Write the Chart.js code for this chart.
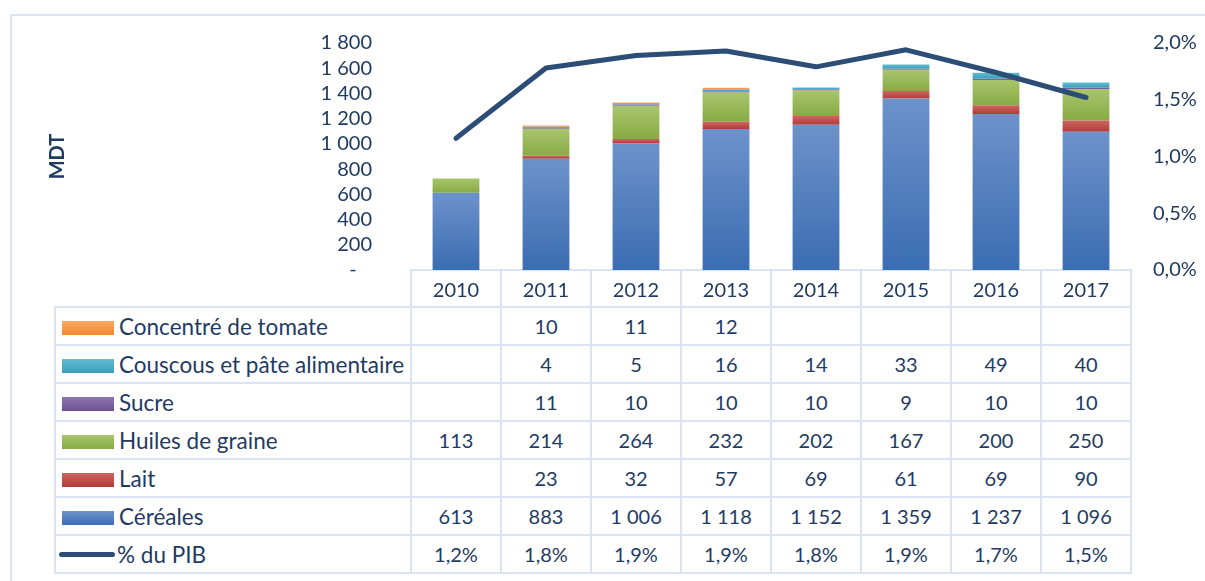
<!DOCTYPE html>
<html>
<head>
<meta charset="utf-8">
<script src="https://cdn.jsdelivr.net/npm/chart.js@4.4.1/dist/chart.umd.min.js"></script>
<style>
  body { margin: 0; background: #fff; font-family: Lato, sans-serif; }
  #wrap { position: relative; width: 1205px; height: 581px; overflow: hidden; }
  #frame { position: absolute; left: 10px; top: 14px; width: 1300px; height: 700px; border: 2px solid #DCE6F2; }
  #tbl { position: absolute; border-collapse: collapse; color: #1F3B63; font-size: 20px; table-layout: fixed; }
  #tbl td { border: 2px solid #DAE3F3; text-align: center; padding: 0; white-space: nowrap; }
  #tbl td.lbl { text-align: left; padding-left: 6px; font-size: 22.5px; }
  #tbl td.blank { border-top: none; border-left: none; }
  .key { display: inline-block; width: 52px; height: 14px; margin-right: 5px; vertical-align: 0px; }
  .lkey { display: inline-block; width: 56px; height: 5px; border-radius: 3px; background: #2C4D75; margin-left: -3px; margin-right: 2px; vertical-align: 6px; }
  #c { position: absolute; left: 0; top: 0; }
</style>
</head>
<body>
<div id="wrap">
  <div id="frame"></div>
  <table id="tbl"></table>
  <canvas id="c" width="1205" height="581"></canvas>
</div>
<script>
const years = ['2010', '2011', '2012', '2013', '2014', '2015', '2016', '2017'];

// MDT, stacked from bottom to top
const cereales   = [613, 883, 1006, 1118, 1152, 1359, 1237, 1096];
const lait       = [null, 23, 32, 57, 69, 61, 69, 90];
const huiles     = [113, 214, 264, 232, 202, 167, 200, 250];
const sucre      = [null, 11, 10, 10, 10, 9, 10, 10];
const couscous   = [null, 4, 5, 16, 14, 33, 49, 40];
const concentre  = [null, 10, 11, 12, null, null, null, null];

// % du PIB
const pib = [1.16, 1.78, 1.89, 1.93, 1.79, 1.94, 1.74, 1.52];

const leftTicks = [0, 200, 400, 600, 800, 1000, 1200, 1400, 1600, 1800];
const rightTicks = [0, 0.5, 1.0, 1.5, 2.0];

const txt = '#1F3B63';

const series = [
  { label: 'Céréales', data: cereales, light: '#6D92CA', dark: '#3A6DB2' },
  { label: 'Lait', data: lait, light: '#CD6663', dark: '#B23B38' },
  { label: 'Huiles de graine', data: huiles, light: '#A8C56E', dark: '#88AB44' },
  { label: 'Sucre', data: sucre, light: '#8D76B0', dark: '#6C5190' },
  { label: 'Couscous et pâte alimentaire', data: couscous, light: '#60BDD3', dark: '#3A9EB7' },
  { label: 'Concentré de tomate', data: concentre, light: '#FAA866', dark: '#F28830' }
];

function fmt(v) {
  return String(v).replace(/\B(?=(\d{3})+(?!\d))/g, ' ');
}
function pct(v) {
  return v.toFixed(1).replace('.', ',') + '%';
}

// vertical gradient per bar segment, light on top
function segFill(idx) {
  return function (ctx) {
    const s = series[idx];
    const y = ctx.chart.scales.y;
    if (!y || ctx.type !== 'data') return s.dark;
    const i = ctx.dataIndex;
    let base = 0;
    for (let k = 0; k < idx; k++) base += series[k].data[i] || 0;
    const top = base + (s.data[i] || 0);
    const y0 = y.getPixelForValue(top), y1 = y.getPixelForValue(base);
    if (!isFinite(y0) || !isFinite(y1) || y0 === y1) return s.dark;
    const g = ctx.chart.ctx.createLinearGradient(0, y0, 0, y1);
    g.addColorStop(0, s.light);
    g.addColorStop(1, s.dark);
    return g;
  };
}

const datasets = series.map((s, idx) => ({
  type: 'bar',
  label: s.label,
  data: s.data,
  backgroundColor: segFill(idx),
  borderWidth: 0,
  yAxisID: 'y',
  order: 1,
  barPercentage: 0.52,
  categoryPercentage: 1
}));
datasets.push({
  type: 'line',
  label: '% du PIB',
  data: pib,
  yAxisID: 'y1',
  borderColor: '#2C4D75',
  borderWidth: 5,
  borderCapStyle: 'round',
  borderJoinStyle: 'round',
  pointRadius: 0,
  tension: 0,
  order: 0
});

const font = { family: 'Lato', size: 20 };

const chart = new Chart(document.getElementById('c'), {
  data: { labels: years, datasets: datasets },
  options: {
    responsive: false,
    animation: false,
    layout: { padding: { top: 43, bottom: 271, left: 0, right: 0 } },
    plugins: { legend: { display: false }, tooltip: { enabled: false } },
    scales: {
      x: {
        stacked: true,
        grid: { display: false, drawTicks: false },
        border: { display: false },
        ticks: { color: txt, font: font, padding: 9 },
        afterFit: (s) => { s.height = 40; }
      },
      y: {
        stacked: true,
        min: 0, max: 1800,
        afterBuildTicks: (s) => { s.ticks = leftTicks.map(v => ({ value: v })); },
        grid: { display: false, drawTicks: false },
        border: { display: false },
        ticks: { color: txt, font: font, padding: 39, autoSkip: false, callback: (v) => v === 0 ? '-   ' : fmt(v) },
        title: { display: true, text: 'MDT', color: txt, font: { family: 'Lato', size: 20, weight: 'bold' }, padding: { top: 46, bottom: 0 } },
        afterFit: (s) => { s.width = 411; s.paddingTop = 0; s.paddingBottom = 0; }
      },
      y1: {
        position: 'right',
        min: 0, max: 2.0,
        afterBuildTicks: (s) => { s.ticks = rightTicks.map(v => ({ value: v })); },
        grid: { display: false, drawTicks: false },
        border: { display: false },
        ticks: { color: txt, font: font, padding: 22, autoSkip: false, callback: (v) => pct(v) },
        afterFit: (s) => { s.width = 74; s.paddingTop = 0; s.paddingBottom = 0; }
      }
    }
  }
});

// data table under the plot, columns lined up with the x scale
const area = chart.chartArea;
const colW = (area.right - area.left) / years.length;
const tbl = document.getElementById('tbl');
const labelLeft = 55;
tbl.style.left = (labelLeft - 1) + 'px';
tbl.style.top = (area.bottom - 1) + 'px';

let html = '<colgroup><col style="width:' + (area.left - labelLeft) + 'px">';
years.forEach(() => { html += '<col style="width:' + colW + 'px">'; });
html += '</colgroup>';
html += '<tr style="height:37px"><td class="blank"></td>' + years.map(() => '<td></td>').join('') + '</tr>';

const rows = series.slice().reverse();
rows.forEach(s => {
  html += '<tr style="height:38px"><td class="lbl"><span class="key" style="background:linear-gradient(' + s.light + ',' + s.dark + ')"></span>' + s.label + '</td>';
  s.data.forEach(v => { html += '<td>' + (v == null ? '' : fmt(v)) + '</td>'; });
  html += '</tr>';
});
html += '<tr style="height:38px"><td class="lbl"><span class="lkey"></span>% du PIB</td>';
pib.forEach(v => { html += '<td>' + pct(v) + '</td>'; });
html += '</tr>';
tbl.innerHTML = html;
</script>
</body>
</html>
